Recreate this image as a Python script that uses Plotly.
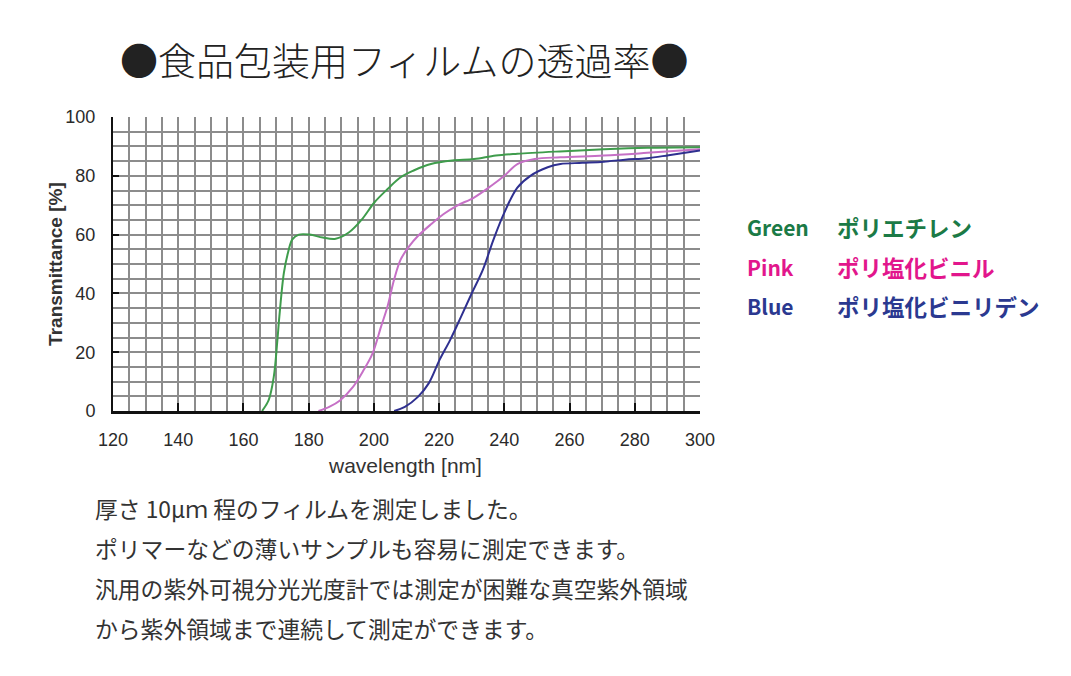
import plotly.graph_objects as go

# curves (wavelength nm, transmittance %)
green_wl = [165.7, 167.7, 169.3, 170.4, 171.0, 172.4, 173.7, 175.0, 177.0, 180.3, 184.3, 188.3,
            192.3, 196.2, 200.2, 204.2, 208.2, 212.2, 217.5, 224.0, 230.7, 237.4, 244.0, 257.0,
            270.5, 283.8, 300.0]
green_t = [0, 3.6, 11.6, 24, 32, 47, 54, 58.4, 60, 60, 59, 58.6,
           60.7, 65, 71, 75.5, 79.5, 81.8, 84, 85.2, 85.7, 86.9, 87.5, 88.3,
           89, 89.5, 89.7]

pink_wl = [183.0, 186.3, 189.6, 193.6, 196.9, 199.6, 202.2, 204.2, 206.2, 208.2, 210.8, 213.5,
           217.5, 221.4, 225.4, 230.7, 236.0, 240.0, 244.0, 249.3, 257.2, 270.5, 283.8, 300.0]
pink_t = [0, 1.4, 3.6, 8.2, 14, 19.6, 28.7, 35.6, 44.7, 51.5, 56, 59.5,
          63.5, 67, 69.8, 72.6, 76.6, 80, 84, 85.7, 86.3, 86.9, 87.8, 89]

blue_wl = [206.2, 209.5, 213.5, 216.8, 220.1, 223.4, 226.7, 230.0, 233.4, 236.7, 240.0, 244.0,
           248.0, 253.3, 257.2, 263.9, 270.5, 277.0, 283.8, 290.4, 300.0]
blue_t = [0, 1.4, 4.8, 9.4, 17.3, 24.2, 32, 40, 48, 58.4, 67.5, 76,
          80, 82.9, 84, 84.4, 84.8, 85.5, 86, 87, 88.6]

legend_en = ["Green", "Pink", "Blue"]
legend_jp = ["ポリエチレン", "ポリ塩化ビニル", "ポリ塩化ビニリデン"]

title_text = "●食品包装用フィルムの透過率●"
notes = [
    "厚さ 10μｍ 程のフィルムを測定しました。",
    "ポリマーなどの薄いサンプルも容易に測定できます。",
    "汎用の紫外可視分光光度計では測定が困難な真空紫外領域",
    "から紫外領域まで連続して測定ができます。",
]

line_colors = ["#3f9c4c", "#c670c6", "#2f3090"]
text_colors = ["#1b7a46", "#e2168c", "#2b3990"]
jp_font = "Noto Sans CJK JP"
num_font = "Liberation Sans Narrow, Liberation Sans, Arial"

fig = go.Figure()
for wl, t, c in zip([green_wl, pink_wl, blue_wl], [green_t, pink_t, blue_t], line_colors):
    fig.add_trace(go.Scatter(x=wl, y=t, mode="lines", line=dict(color=c, width=2, shape="spline"),
                             showlegend=False, hoverinfo="skip"))

grid = dict(showgrid=True, gridcolor="#8c8c8c", gridwidth=2)
fig.update_xaxes(range=[120, 300], dtick=20, tick0=120, **grid,
                 minor=dict(dtick=5, showgrid=True, gridcolor="#8c8c8c", gridwidth=2),
                 showline=True, linecolor="#111", linewidth=3,
                 ticks="inside", ticklen=8, tickwidth=2, tickcolor="#111", ticklabelstandoff=10,
                 tickfont=dict(family=num_font, size=18, color="#2a2a2a"), zeroline=False)
fig.update_yaxes(range=[0, 100], dtick=20, **grid,
                 minor=dict(dtick=5, showgrid=True, gridcolor="#8c8c8c", gridwidth=2),
                 showline=True, linecolor="#111", linewidth=2,
                 ticks="inside", ticklen=6, tickwidth=2, tickcolor="#111", ticklabelstandoff=12,
                 tickfont=dict(family=num_font, size=18, color="#2a2a2a"), zeroline=False)

ann = []
ann.append(dict(text="<b>Transmittance [%]</b>", x=-0.099, y=0.5, xref="paper", yref="paper",
                xanchor="center", yanchor="middle",
                textangle=-90, showarrow=False, font=dict(family=num_font, size=19, color="#333")))
ann.append(dict(text="wavelength [nm]", x=0.497, y=-0.184, xref="paper", yref="paper",
                xanchor="center", yanchor="middle",
                showarrow=False, font=dict(family=num_font, size=21, color="#333")))

leg_y = [0.626, 0.490, 0.357]
for en, jp, c, yy in zip(legend_en, legend_jp, text_colors, leg_y):
    ann.append(dict(text="<b>" + en + "</b>", x=1.077, y=yy, xref="paper", yref="paper",
                    xanchor="left", yanchor="middle", showarrow=False,
                    font=dict(family=jp_font, size=21, color=c)))
    ann.append(dict(text="<b>" + jp + "</b>", x=1.23, y=yy, xref="paper", yref="paper",
                    xanchor="left", yanchor="middle", showarrow=False,
                    font=dict(family=jp_font, size=22.5, color=c)))

note_y = [-0.333, -0.469, -0.605, -0.741]
for line, yy in zip(notes, note_y):
    ann.append(dict(text=line, x=-0.034, y=yy, xref="paper", yref="paper",
                    xanchor="left", yanchor="middle", showarrow=False,
                    font=dict(family=jp_font, size=22.8, color="#333")))

# page body adds 8px, so the margins are shifted to put the grid where the original has it
fig.update_layout(
    width=1071, height=676,
    margin=dict(l=105, r=379, t=109, b=273),
    paper_bgcolor="white", plot_bgcolor="white",
    title=dict(text=title_text, x=0.496, xref="paper", y=0.920, yanchor="middle",
               font=dict(family=jp_font, size=38, color="#222", weight=300)),
    annotations=ann,
)

fig.write_html("out.html")
